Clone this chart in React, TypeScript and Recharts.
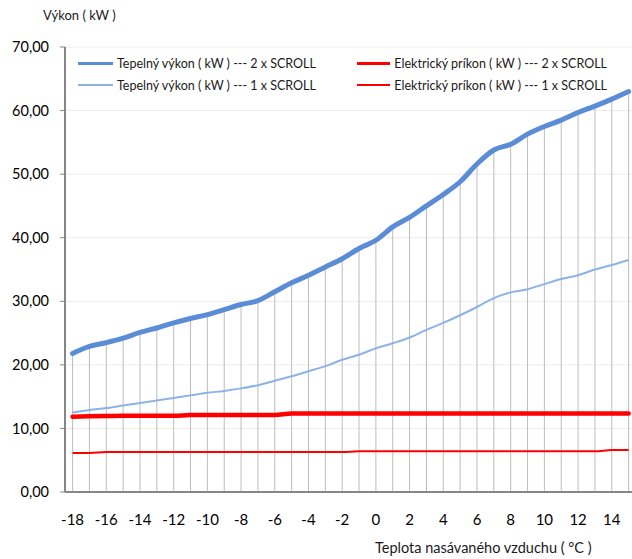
import React from "react";
import {
  CartesianGrid,
  ComposedChart,
  Line,
  ReferenceLine,
  XAxis,
  YAxis,
} from "recharts";

const temps = [
  -18, -17, -16, -15, -14, -13, -12, -11, -10, -9, -8, -7, -6, -5, -4, -3, -2,
  -1, 0, 1, 2, 3, 4, 5, 6, 7, 8, 9, 10, 11, 12, 13, 14, 15,
];

// Tepelný výkon, 2 x SCROLL
const heat2 = [
  21.8, 22.9, 23.5, 24.2, 25.1, 25.8, 26.6, 27.3, 27.9, 28.7, 29.5, 30.1, 31.5,
  32.9, 34.1, 35.4, 36.7, 38.3, 39.6, 41.7, 43.2, 45.0, 46.8, 48.8, 51.6, 53.8,
  54.7, 56.3, 57.5, 58.5, 59.7, 60.7, 61.8, 63.0,
];

// Tepelný výkon, 1 x SCROLL
const heat1 = [
  12.5, 12.9, 13.2, 13.6, 14.0, 14.4, 14.8, 15.2, 15.6, 15.9, 16.3, 16.8, 17.5,
  18.2, 19.0, 19.8, 20.8, 21.6, 22.6, 23.4, 24.3, 25.5, 26.6, 27.8, 29.1, 30.5,
  31.4, 31.9, 32.7, 33.5, 34.1, 35.0, 35.7, 36.5,
];

// Elektrický príkon, 2 x SCROLL
const elec2 = [
  11.85, 11.9, 11.95, 12.0, 12.0, 12.0, 12.0, 12.1, 12.1, 12.1, 12.1, 12.1,
  12.1, 12.35, 12.35, 12.35, 12.35, 12.35, 12.35, 12.35, 12.35, 12.35, 12.35,
  12.35, 12.35, 12.35, 12.35, 12.35, 12.35, 12.35, 12.35, 12.35, 12.35, 12.35,
];

// Elektrický príkon, 1 x SCROLL
const elec1 = [
  6.15, 6.15, 6.3, 6.3, 6.3, 6.3, 6.3, 6.3, 6.3, 6.3, 6.3, 6.3, 6.3, 6.3, 6.3,
  6.3, 6.3, 6.4, 6.4, 6.4, 6.4, 6.4, 6.4, 6.4, 6.4, 6.4, 6.4, 6.4, 6.4, 6.4,
  6.4, 6.4, 6.6, 6.6,
];

const xTicks = [-18, -16, -14, -12, -10, -8, -6, -4, -2, 0, 2, 4, 6, 8, 10, 12, 14];
const yTicks = [0, 10, 20, 30, 40, 50, 60, 70];

const data = temps.map((t, i) => ({
  t,
  heat2: heat2[i],
  heat1: heat1[i],
  elec2: elec2[i],
  elec1: elec1[i],
}));

const legendItems = [
  { label: "Tepelný výkon ( kW ) --- 2 x SCROLL", color: "#5b8dd6", width: 3 },
  { label: "Elektrický príkon ( kW ) --- 2 x SCROLL", color: "#ff0000", width: 3 },
  { label: "Tepelný výkon ( kW ) --- 1 x SCROLL", color: "#8db3e6", width: 1.5 },
  { label: "Elektrický príkon ( kW ) --- 1 x SCROLL", color: "#ff0000", width: 1.5 },
];

const font = "Lato, 'Open Sans', sans-serif";

function ChartLegend() {
  return (
    <div
      style={{
        position: "absolute",
        left: 78,
        top: 55,
        display: "grid",
        gridTemplateColumns: "279px 250px",
        rowGap: 6,
        fontFamily: font,
        fontSize: 12.5,
        color: "#1a1a1a",
        whiteSpace: "nowrap",
      }}
    >
      {legendItems.map((it) => (
        <div key={it.label} style={{ display: "flex", alignItems: "center", height: 16 }}>
          <div style={{ width: 35, height: it.width, background: it.color, marginRight: 4 }} />
          <span>{it.label}</span>
        </div>
      ))}
    </div>
  );
}

export default function App() {
  return (
    <div style={{ position: "absolute", left: 0, top: 0, width: 632, height: 559, background: "#fff" }}>
      <ComposedChart
        width={632}
        height={559}
        data={data}
        margin={{ top: 47, right: 0, bottom: 0, left: 0 }}
      >
        <CartesianGrid vertical={false} stroke="#ececec" strokeWidth={1} />
        <XAxis
          dataKey="t"
          type="number"
          domain={[-18.45, 15.2]}
          allowDataOverflow
          ticks={xTicks}
          interval={0}
          height={67}
          tickLine={false}
          tickSize={0}
          tickMargin={22}
          axisLine={{ stroke: "#868686", strokeWidth: 2 }}
          tick={{ fill: "#000", fontSize: 15, fontFamily: font }}
        />
        <YAxis
          type="number"
          domain={[0, 70]}
          ticks={yTicks}
          width={65}
          tickSize={5}
          tickMargin={11}
          tickLine={{ stroke: "#868686" }}
          axisLine={{ stroke: "#868686", strokeWidth: 2 }}
          tickFormatter={(v: number) => v.toFixed(2).replace(".", ",")}
          tick={{ fill: "#000", fontSize: 14.5, fontFamily: font }}
        />
        {data.map((d) => (
          <ReferenceLine
            key={d.t}
            segment={[
              { x: d.t, y: 0 },
              { x: d.t, y: d.heat2 },
            ]}
            stroke="#bdbdbd"
            strokeWidth={1}
          />
        ))}
        <Line
          dataKey="heat1"
          type="monotone"
          stroke="#8db3e6"
          strokeWidth={2}
          dot={false}
          isAnimationActive={false}
        />
        <Line
          dataKey="elec1"
          type="monotone"
          stroke="#ff0000"
          strokeWidth={2}
          dot={false}
          isAnimationActive={false}
        />
        <Line
          dataKey="elec2"
          type="monotone"
          stroke="#ff0000"
          strokeWidth={4.5}
          strokeLinecap="round"
          dot={false}
          isAnimationActive={false}
        />
        <Line
          dataKey="heat2"
          type="monotone"
          stroke="#5b8dd6"
          strokeWidth={5}
          strokeLinecap="round"
          dot={false}
          isAnimationActive={false}
        />
      </ComposedChart>
      <ChartLegend />
      <div
        style={{
          position: "absolute",
          left: 43,
          top: 7,
          fontFamily: font,
          fontSize: 13,
          color: "#1a1a1a",
        }}
      >
        Výkon ( kW )
      </div>
      <div
        style={{
          position: "absolute",
          left: 375,
          top: 539,
          fontFamily: font,
          fontSize: 14.5,
          color: "#1a1a1a",
          whiteSpace: "nowrap",
        }}
      >
        Teplota nasávaného vzduchu ( °C )
      </div>
    </div>
  );
}
